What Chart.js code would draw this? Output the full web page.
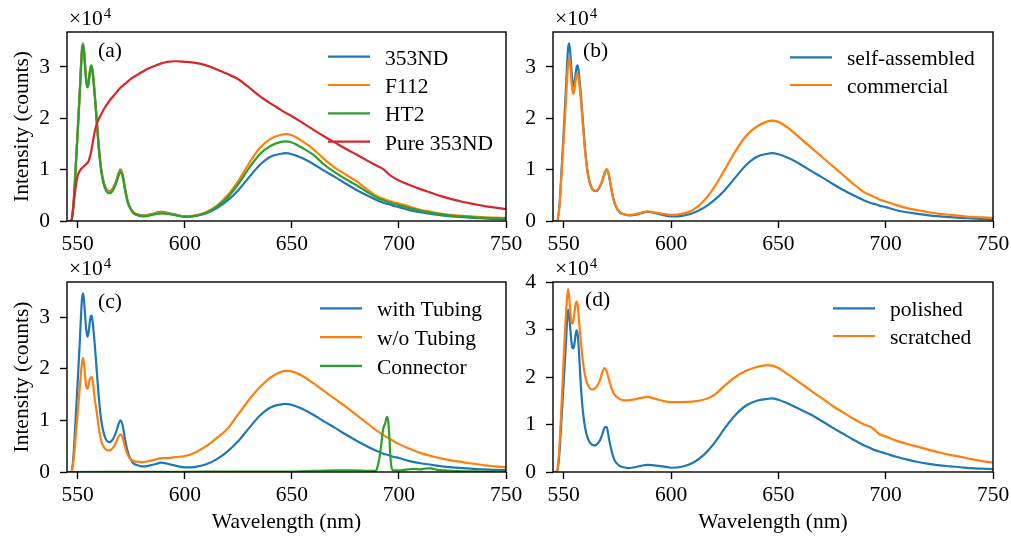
<!DOCTYPE html>
<html>
<head>
<meta charset="utf-8">
<script src="https://cdn.jsdelivr.net/npm/chart.js@4.4.1/dist/chart.umd.min.js"></script>
<style>
  html, body { margin: 0; padding: 0; background: #fff; }
  #fig { position: relative; width: 1011px; height: 538px; overflow: hidden; background: #fff; }
  #fig canvas { position: absolute; }
</style>
</head>
<body>
<div id="fig">
  <canvas id="pa" width="530" height="255" style="left:0;top:0"></canvas>
  <canvas id="pb" width="511" height="255" style="left:500px;top:0"></canvas>
  <canvas id="pc" width="530" height="283" style="left:0;top:255px"></canvas>
  <canvas id="pd" width="511" height="283" style="left:500px;top:255px"></canvas>
</div>
<script>
// spectra in units of 1e4 counts, sampled on a shared wavelength grid (nm)
const wavelength = [545, 546, 547, 548, 549, 550, 551, 552,
  552.5, 553, 553.5, 554, 554.5, 555, 555.5, 556, 556.5, 557,
  558, 559, 560, 561, 562, 563, 564, 565, 566, 567, 568, 569, 570, 571, 572, 573, 574,
  576, 578, 580, 583, 586, 589, 592, 596,
  600, 605, 610, 615, 620, 625, 630, 635, 640, 645,
  647,
  650, 655, 660, 665, 670, 675, 680, 685, 690,
  693, 695, 697,
  700, 705, 710, 715, 720, 725, 730, 735, 740, 745, 750];

const nd353 = [0, 0, 0, 0.3, 1.0, 1.75, 2.55, 3.35,
  3.46, 3.3, 3.0, 2.75, 2.62, 2.68, 2.85, 3.0, 3.03, 2.9,
  2.45, 1.9, 1.38, 1.0, 0.78, 0.65, 0.59, 0.58, 0.61, 0.68, 0.78, 0.92, 1.0, 0.9, 0.66, 0.45, 0.31,
  0.17, 0.13, 0.11, 0.12, 0.15, 0.18, 0.16, 0.12,
  0.09, 0.1, 0.15, 0.25, 0.4, 0.6, 0.85, 1.09, 1.25, 1.31,
  1.32,
  1.3, 1.22, 1.11, 0.98, 0.86, 0.73, 0.61, 0.5, 0.4,
  0.35, 0.33, 0.3,
  0.27, 0.21, 0.17, 0.14, 0.11, 0.09, 0.075, 0.06, 0.05, 0.04, 0.035];

const f112 = [0, 0, 0, 0.3, 1.0, 1.75, 2.55, 3.34,
  3.45, 3.29, 2.99, 2.74, 2.61, 2.67, 2.84, 2.99, 3.02, 2.89,
  2.44, 1.89, 1.37, 0.99, 0.77, 0.64, 0.58, 0.57, 0.6, 0.67, 0.77, 0.9, 0.98, 0.89, 0.65, 0.44, 0.3,
  0.16, 0.12, 0.1, 0.12, 0.14, 0.17, 0.15, 0.12,
  0.09, 0.11, 0.17, 0.3, 0.5, 0.78, 1.12, 1.42, 1.6, 1.68,
  1.69,
  1.67, 1.55, 1.4, 1.21, 1.04, 0.91, 0.78, 0.62, 0.48,
  0.43, 0.4, 0.37,
  0.34, 0.28, 0.22, 0.18, 0.14, 0.115, 0.1, 0.085, 0.07, 0.065, 0.06];

const ht2 = [0, 0, 0, 0.3, 1.0, 1.74, 2.53, 3.32,
  3.43, 3.27, 2.97, 2.72, 2.6, 2.66, 2.83, 2.98, 3.01, 2.88,
  2.42, 1.86, 1.34, 0.96, 0.74, 0.61, 0.55, 0.54, 0.57, 0.64, 0.74, 0.87, 0.95, 0.86, 0.63, 0.42, 0.29,
  0.15, 0.11, 0.09, 0.1, 0.13, 0.15, 0.14, 0.11,
  0.08, 0.1, 0.16, 0.28, 0.46, 0.72, 1.03, 1.3, 1.46, 1.54,
  1.55,
  1.53, 1.42, 1.29, 1.1, 0.95, 0.82, 0.7, 0.57, 0.45,
  0.4, 0.37, 0.34,
  0.31, 0.25, 0.2, 0.16, 0.13, 0.1, 0.085, 0.07, 0.06, 0.05, 0.045];

const pure353 = [0, 0, 0, 0.3, 0.65, 0.88, 0.98, 1.03,
  1.05, 1.07, 1.09, 1.11, 1.13, 1.16, 1.22, 1.3, 1.4, 1.52,
  1.75, 1.9, 2.0, 2.08, 2.16, 2.23, 2.29, 2.35, 2.4, 2.45, 2.5, 2.55, 2.6, 2.63, 2.67, 2.7, 2.74,
  2.8, 2.85, 2.9, 2.97, 3.02, 3.07, 3.1, 3.11,
  3.1, 3.08, 3.03, 2.95, 2.86, 2.76, 2.6, 2.43, 2.29, 2.16,
  2.11,
  2.04, 1.91, 1.78, 1.65, 1.53, 1.41, 1.3, 1.18, 1.07,
  1.0, 0.92, 0.86,
  0.79, 0.7, 0.62, 0.55, 0.48, 0.42, 0.37, 0.33, 0.29, 0.26, 0.23];

const commercial = [0, 0, 0, 0.28, 0.92, 1.6, 2.33, 3.03,
  3.18, 3.05, 2.78, 2.55, 2.48, 2.55, 2.72, 2.84, 2.87, 2.75,
  2.35, 1.82, 1.34, 0.97, 0.75, 0.64, 0.6, 0.59, 0.62, 0.69, 0.79, 0.93, 1.01, 0.91, 0.67, 0.46, 0.32,
  0.18, 0.13, 0.12, 0.13, 0.16, 0.19, 0.17, 0.14,
  0.12, 0.14, 0.21, 0.38, 0.65, 1.0, 1.36, 1.66, 1.84, 1.94,
  1.955,
  1.93, 1.8, 1.62, 1.44, 1.26, 1.08, 0.9, 0.72, 0.56,
  0.5, 0.46, 0.42,
  0.38, 0.31, 0.25, 0.21, 0.17, 0.14, 0.12, 0.1, 0.08, 0.07, 0.06];

const withoutTubing = [0, 0, 0, 0.2, 0.65, 1.15, 1.65, 2.12,
  2.21, 2.08, 1.83, 1.65, 1.61, 1.66, 1.77, 1.83, 1.84, 1.76,
  1.4, 1.13, 0.82, 0.6, 0.5, 0.44, 0.42, 0.42, 0.45, 0.5, 0.58, 0.68, 0.73, 0.66, 0.5, 0.37, 0.28,
  0.21, 0.2, 0.19, 0.21, 0.24, 0.27, 0.27, 0.29,
  0.31, 0.38, 0.5, 0.66, 0.84, 1.12, 1.4, 1.64, 1.83, 1.94,
  1.96,
  1.95, 1.86, 1.72, 1.57, 1.42, 1.27, 1.11, 0.95, 0.79,
  0.71, 0.66, 0.61,
  0.54, 0.45, 0.37, 0.31, 0.26, 0.22, 0.19, 0.16, 0.13, 0.11, 0.09];

const polished = [0, 0, 0, 0.4, 1.15, 1.9, 2.7, 3.42,
  3.3, 3.05, 2.78, 2.62, 2.6, 2.7, 2.88, 2.98, 2.9, 2.6,
  1.8, 1.25, 0.92, 0.74, 0.63, 0.58, 0.56, 0.57, 0.61, 0.68, 0.8, 0.93, 0.95, 0.72, 0.5, 0.33, 0.22,
  0.13, 0.1, 0.08, 0.1, 0.13, 0.15, 0.14, 0.12,
  0.09, 0.11, 0.19, 0.35, 0.6, 0.92, 1.2, 1.4, 1.5, 1.54,
  1.55,
  1.52, 1.43, 1.32, 1.21, 1.08, 0.94, 0.81, 0.68, 0.56,
  0.5, 0.46, 0.43,
  0.39, 0.32, 0.26, 0.21, 0.17, 0.14, 0.12, 0.1, 0.08, 0.07, 0.06];

const scratched = [0, 0, 0.05, 0.55, 1.45, 2.4, 3.3, 3.85,
  3.7, 3.42, 3.2, 3.13, 3.18, 3.35, 3.53, 3.59, 3.5, 3.25,
  2.75, 2.3, 2.02, 1.86, 1.77, 1.74, 1.74, 1.78, 1.84, 1.95, 2.1, 2.19, 2.12, 1.96, 1.8, 1.68, 1.61,
  1.54, 1.51, 1.51, 1.53, 1.56, 1.58, 1.55, 1.5,
  1.47, 1.47, 1.48, 1.52, 1.62, 1.82, 2.0, 2.13, 2.21, 2.25,
  2.24,
  2.19, 2.04, 1.88, 1.72, 1.56, 1.4, 1.26, 1.12, 1.0,
  0.95, 0.88, 0.8,
  0.75, 0.66, 0.59, 0.53, 0.47, 0.41, 0.36, 0.32, 0.27, 0.23, 0.2];

// connector spectrum has its own, finer grid around the 694 nm line
const connectorWl = [545, 600, 650, 660, 670, 680, 686, 689, 690, 691,
  692, 692.5, 693, 693.5, 694, 694.5, 695, 695.5, 696, 696.5,
  697, 698, 700, 704, 707, 710, 713, 715, 718, 722,
  730, 740, 750];
const connector = [0, 0.005, 0.01, 0.02, 0.03, 0.03, 0.02, 0.02, 0.1, 0.3,
  0.62, 0.8, 0.89, 0.93, 1.02, 1.07, 0.98, 0.7, 0.3, 0.1,
  0.04, 0.03, 0.03, 0.05, 0.06, 0.05, 0.07, 0.07, 0.04, 0.03,
  0.015, 0.01, 0.005];

const xTicks = [550, 600, 650, 700, 750];
const yTicks = [0, 1, 2, 3];
const yTicksD = [0, 1, 2, 3, 4];

const FONT = '"Liberation Serif", "Times New Roman", serif';
const FS = 21.5;
const BLUE = '#1f77b4', ORANGE = '#ff7f0e', GREEN = '#2ca02c', RED = '#d62728';

function line(label, xs, ys, color, i) {
  return {
    label,
    data: xs.map((x, k) => ({ x, y: ys[k] })),
    borderColor: color,
    borderWidth: 2.2,
    pointRadius: 0,
    fill: false,
    cubicInterpolationMode: 'monotone',
    order: -i   // later series on top
  };
}

// frame, offset text, panel tag and legend
const decor = {
  id: 'decor',
  afterDraw(chart, args, o) {
    const { ctx, chartArea: a } = chart;
    ctx.save();
    ctx.strokeStyle = '#000';
    ctx.lineWidth = 1.4;
    ctx.strokeRect(a.left, a.top, a.right - a.left, a.bottom - a.top);

    ctx.fillStyle = '#000';
    ctx.textAlign = 'left';
    ctx.textBaseline = 'alphabetic';
    ctx.font = FS + 'px ' + FONT;
    ctx.fillText('\u00d710', a.left + 2, a.top - 7);
    const w = ctx.measureText('\u00d710').width;
    ctx.font = '15px ' + FONT;
    ctx.fillText('4', a.left + 2 + w + 1, a.top - 14);

    ctx.font = FS + 'px ' + FONT;
    ctx.fillText(o.tag, a.left + o.tagX, a.top + o.tagY);

    chart.data.datasets.forEach((ds, i) => {
      const y = a.top + o.legY + i * o.legDy;
      ctx.strokeStyle = ds.borderColor;
      ctx.lineWidth = ds.borderWidth;
      ctx.beginPath();
      ctx.moveTo(a.right + o.lineX, y);
      ctx.lineTo(a.right + o.lineX + 42, y);
      ctx.stroke();
      ctx.fillText(ds.label, a.right + o.lineX + 57, y + 8);
    });
    ctx.restore();
  }
};

function makePanel(id, datasets, opt) {
  const tickFont = { family: FONT, size: FS };
  new Chart(document.getElementById(id), {
    type: 'line',
    data: { datasets },
    plugins: [decor],
    options: {
      responsive: false,
      animation: false,
      devicePixelRatio: 1,
      layout: { padding: { left: 0, top: opt.top, right: opt.right, bottom: 0 } },
      plugins: {
        legend: { display: false },
        tooltip: { enabled: false },
        decor: opt.decor
      },
      scales: {
        x: {
          type: 'linear',
          min: 545,
          max: 750,
          afterBuildTicks: s => { s.ticks = xTicks.map(v => ({ value: v })); },
          afterFit: s => { s.height = opt.xHeight; s.paddingLeft = 0; s.paddingRight = 0; },
          ticks: { font: tickFont, color: '#000', padding: 3, maxRotation: 0, autoSkip: false, callback: v => String(v) },
          grid: { display: true, drawOnChartArea: false, drawTicks: true, tickLength: 7, tickWidth: 1.4, tickColor: '#000' },
          border: { display: false },
          title: { display: !!opt.xTitle, text: opt.xTitle || '', font: tickFont, color: '#000', padding: { top: 0, bottom: 3 } }
        },
        y: {
          min: 0,
          max: opt.yMax,
          afterBuildTicks: s => { s.ticks = opt.yTicks.map(v => ({ value: v })); },
          afterFit: s => { s.width = opt.yWidth; s.paddingTop = 0; s.paddingBottom = 0; },
          ticks: { font: tickFont, color: '#000', padding: 10, callback: v => String(v) },
          grid: { display: true, drawOnChartArea: false, drawTicks: true, tickLength: 7, tickWidth: 1.4, tickColor: '#000' },
          border: { display: false },
          title: { display: !!opt.yTitle, text: opt.yTitle || '', font: tickFont, color: '#000', padding: { top: 9, bottom: 0 } }
        }
      }
    }
  });
}

makePanel('pa', [
  line('353ND', wavelength, nd353, BLUE, 0),
  line('F112', wavelength, f112, ORANGE, 1),
  line('HT2', wavelength, ht2, GREEN, 2),
  line('Pure 353ND', wavelength, pure353, RED, 3)
], { top: 32, right: 24, yWidth: 67, xHeight: 34, yMax: 3.68, yTicks: yTicks, yTitle: 'Intensity (counts)',
     decor: { tag: '(a)', tagX: 31, tagY: 24.5, legY: 24.7, legDy: 28.3, lineX: -178 } });

makePanel('pb', [
  line('self-assembled', wavelength, nd353, BLUE, 0),
  line('commercial', wavelength, commercial, ORANGE, 1)
], { top: 32, right: 18, yWidth: 53, xHeight: 34, yMax: 3.68, yTicks: yTicks,
     decor: { tag: '(b)', tagX: 30, tagY: 24.5, legY: 25.3, legDy: 27.7, lineX: -203 } });

makePanel('pc', [
  line('with Tubing', wavelength, nd353, BLUE, 0),
  line('w/o Tubing', wavelength, withoutTubing, ORANGE, 1),
  line('Connector', connectorWl, connector, GREEN, 2)
], { top: 27, right: 24, yWidth: 67, xHeight: 66, yMax: 3.68, yTicks: yTicks,
     yTitle: 'Intensity (counts)', xTitle: 'Wavelength (nm)',
     decor: { tag: '(c)', tagX: 31, tagY: 25.5, legY: 26.3, legDy: 28.8, lineX: -186 } });

makePanel('pd', [
  line('polished', wavelength, polished, BLUE, 0),
  line('scratched', wavelength, scratched, ORANGE, 1)
], { top: 27, right: 18, yWidth: 53, xHeight: 66, yMax: 4, yTicks: yTicksD, xTitle: 'Wavelength (nm)',
     decor: { tag: '(d)', tagX: 32, tagY: 24, legY: 26.3, legDy: 27.7, lineX: -160 } });
</script>
</body>
</html>
